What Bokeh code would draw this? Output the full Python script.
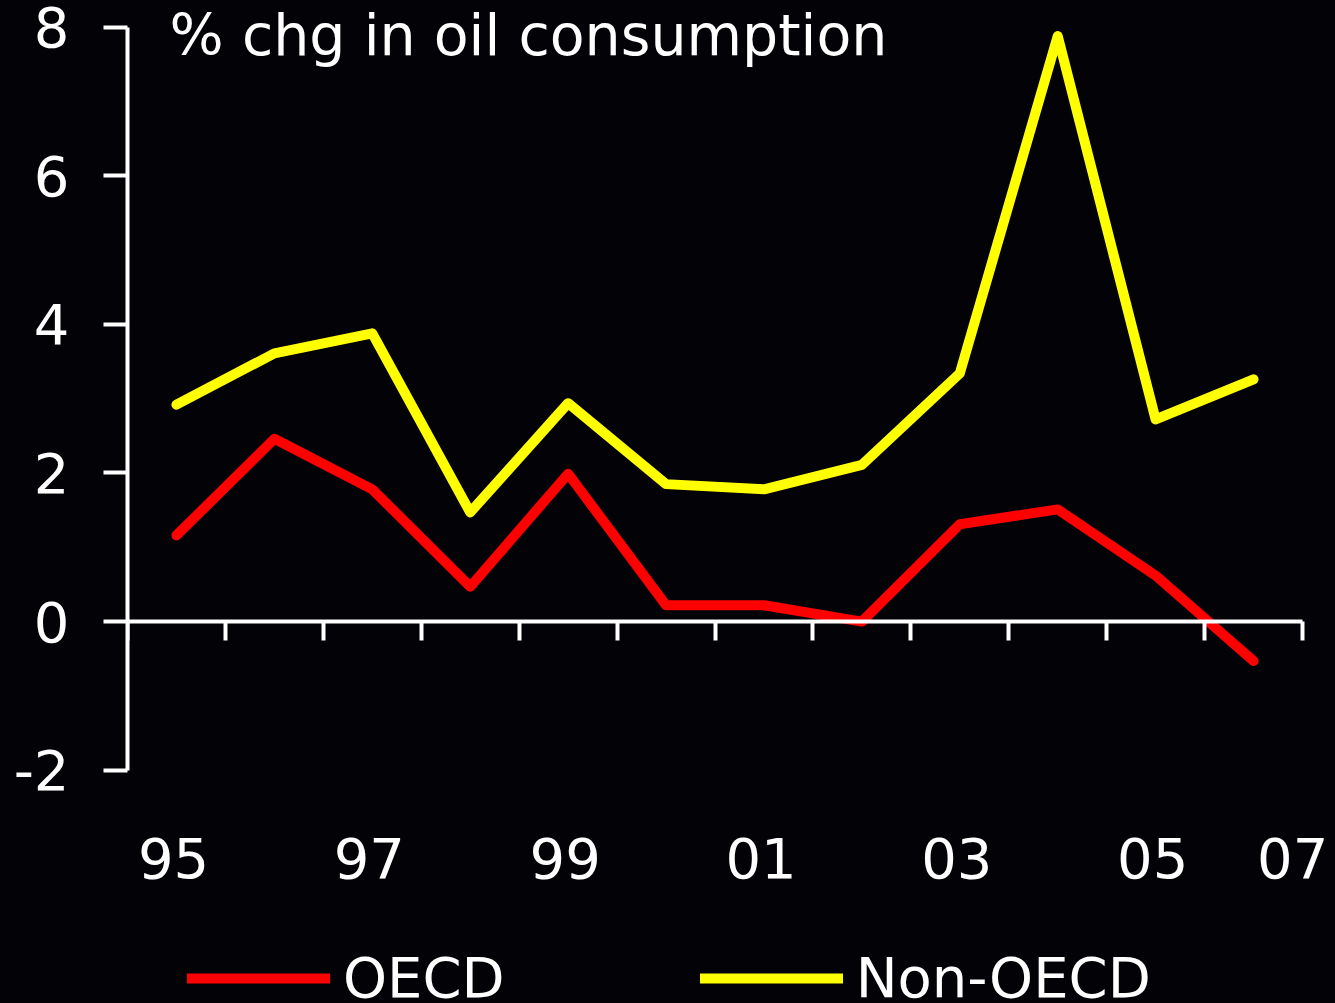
from bokeh.plotting import figure
from bokeh.models import (Range1d, LinearAxis, FixedTicker, Label, Legend, LegendItem,
                          ColumnDataSource)
from bokeh.embed import file_html
from bokeh.resources import INLINE

# ---- data ----
years = ["95", "96", "97", "98", "99", "00", "01", "02", "03", "04", "05", "06"]
oecd = [1.16, 2.46, 1.78, 0.47, 1.99, 0.22, 0.22, 0.0, 1.31, 1.51, 0.62, -0.53]
non_oecd = [2.92, 3.61, 3.88, 1.47, 2.94, 1.85, 1.78, 2.11, 3.34, 7.88, 2.72, 3.26]
y_ticks = [-2, 0, 2, 4, 6, 8]
x_label_text = ["95", "97", "99", "01", "03", "05", "07"]
title_text = "% chg in oil consumption"

BG = "#030207"
FONT = "DejaVu Sans"
n = len(years)

xpos = [i + 0.5 for i in range(n)]
boundaries = list(range(0, n + 1))
label_pos = [xpos[i] - 0.03 for i in range(0, n, 2)] + [n - 0.1]

p = figure(width=1335, height=1003, output_backend="svg", toolbar_location=None,
           x_range=Range1d(0, n + 0.337), y_range=Range1d(-5.14, 8.359),
           min_border_left=127, min_border_right=0, min_border_top=0, min_border_bottom=0,
           frame_width=1208, frame_height=1003,
           background_fill_color=BG, border_fill_color=BG, outline_line_color=None,
           x_axis_type=None, y_axis_location="left")
p.grid.visible = False

# y axis
ya = p.yaxis[0]
ya.ticker = FixedTicker(ticks=y_ticks)
ya.bounds = (min(y_ticks), max(y_ticks))
ya.major_label_overrides = {-2: "-2"}
ya.axis_line_color = "white"
ya.axis_line_width = 4
ya.major_tick_line_color = "white"
ya.major_tick_line_width = 4
ya.major_tick_out = 24
ya.major_tick_in = 0
ya.minor_tick_line_color = None
ya.major_label_text_color = "white"
ya.major_label_text_font = FONT
ya.major_label_text_font_size = "56px"
ya.major_label_standoff = 34

# zero line axis with category boundary ticks
za = LinearAxis(fixed_location=0, ticker=FixedTicker(ticks=boundaries), bounds=(0, n))
za.axis_line_color = "white"
za.axis_line_width = 4
za.major_tick_line_color = "white"
za.major_tick_line_width = 4
za.major_tick_out = 19
za.major_tick_in = 0
za.minor_tick_line_color = None
za.major_label_text_font_size = "0px"
za.major_label_text_color = None
p.add_layout(za, "below")

# year labels axis
xa = LinearAxis(fixed_location=0, ticker=FixedTicker(ticks=label_pos))
xa.major_label_overrides = {pos: t for pos, t in zip(label_pos, x_label_text)}
xa.axis_line_color = None
xa.major_tick_line_color = None
xa.minor_tick_line_color = None
xa.major_tick_out = 0
xa.major_tick_in = 0
xa.major_label_text_color = "white"
xa.major_label_text_font = FONT
xa.major_label_text_font_size = "56px"
xa.major_label_standoff = 216
p.add_layout(xa, "below")

src = ColumnDataSource(dict(x=xpos, oecd=oecd, non=non_oecd))
r1 = p.line("x", "oecd", source=src, line_color="#ff0000", line_width=10,
            line_cap="round", line_join="round")
r2 = p.line("x", "non", source=src, line_color="#ffff00", line_width=10,
            line_cap="round", line_join="round")

p.add_layout(Label(x=0.43, y=7.9, text=title_text, text_color="white",
                   text_font=FONT, text_font_size="57px", text_baseline="alphabetic"))

legend = Legend(items=[LegendItem(label="OECD", renderers=[r1]),
                       LegendItem(label="Non-OECD", renderers=[r2])],
                orientation="horizontal", location=(60, -7),
                glyph_width=143, glyph_height=40, label_standoff=13, spacing=195,
                padding=0, margin=0, border_line_color=None, background_fill_alpha=0,
                label_text_color="white", label_text_font=FONT, label_text_font_size="56px")
p.add_layout(legend, "center")

html = file_html(p, INLINE)
html = html.replace("<head>", "<head><style>html,body{background:%s;margin:0;}</style>" % BG, 1)
open("out.html", "w").write(html)
